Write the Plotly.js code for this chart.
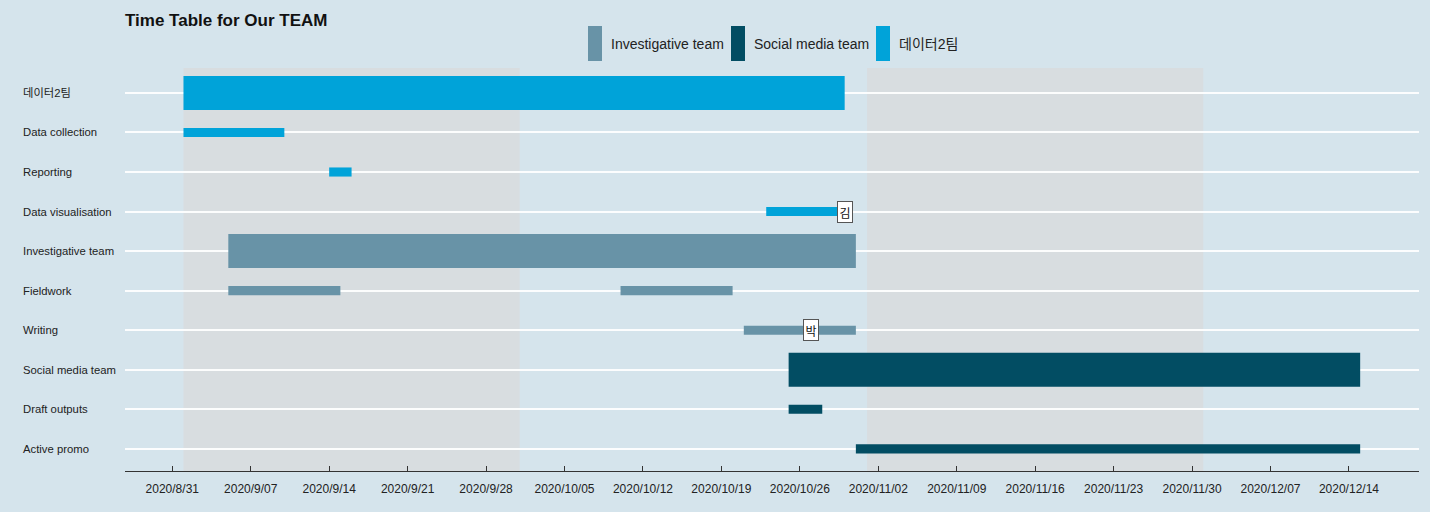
<!DOCTYPE html>
<html>
<head>
<meta charset="utf-8">
<script src="https://cdn.plot.ly/plotly-3.0.1.min.js"></script>
<style>html,body{margin:0;padding:0;background:#d5e4ec;}#chart{width:1430px;height:512px;}</style>
</head>
<body>
<div id="chart"></div>
<script>
// ---- Data ----
const taskOrder = ['데이터2팀','Data collection','Reporting','Data visualisation','Investigative team','Fieldwork','Writing','Social media team','Draft outputs','Active promo'];

const teamNames = ['Investigative team','Social media team','데이터2팀'];
const teamColors = ['#6893a7','#024d63','#00a3d9'];

const dataTeamTasks = ['데이터2팀','Data collection','Reporting','Data visualisation'];
const dataTeamStart = ['2020-09-01','2020-09-01','2020-09-14','2020-10-23'];
const dataTeamEnd   = ['2020-10-30','2020-09-10','2020-09-16','2020-10-30'];

const invTeamTasks = ['Investigative team','Fieldwork','Fieldwork','Writing'];
const invTeamStart = ['2020-09-05','2020-09-05','2020-10-10','2020-10-21'];
const invTeamEnd   = ['2020-10-31','2020-09-15','2020-10-20','2020-10-31'];

const socTeamTasks = ['Social media team','Draft outputs','Active promo'];
const socTeamStart = ['2020-10-25','2020-10-25','2020-10-31'];
const socTeamEnd   = ['2020-12-15','2020-10-28','2020-12-15'];

const teamRows = ['데이터2팀','Investigative team','Social media team'];

const noteTasks = ['Data visualisation','Writing'];
const noteDates = ['2020-10-30','2020-10-27'];
const noteTexts = ['김','박'];

const shadeStart = ['2020-09-01','2020-11-01'];
const shadeEnd   = ['2020-10-01','2020-12-01'];

const tick0 = '2020-08-31';
const xRange = ['2020-08-26 18:45','2020-12-20 06:00'];

// ---- Build ----
const DAY = 86400000;
function dur(s, e){ return e.map((d,i)=> new Date(d) - new Date(s[i])); }
function widths(tasks){ return tasks.map(t => teamRows.includes(t) ? 0.86 : 0.23); }

function barTrace(name, color, tasks, start, end){
  return {
    type:'bar', orientation:'h', name:name,
    y:tasks, base:start, x:dur(start,end), width:widths(tasks),
    marker:{color:color, line:{width:0}},
    hoverinfo:'skip', showlegend:false
  };
}

const traces = [
  barTrace(teamNames[0], teamColors[0], invTeamTasks, invTeamStart, invTeamEnd),
  barTrace(teamNames[1], teamColors[1], socTeamTasks, socTeamStart, socTeamEnd),
  barTrace(teamNames[2], teamColors[2], dataTeamTasks, dataTeamStart, dataTeamEnd)
];

const shapes = shadeStart.map((s,i)=>({
  type:'rect', xref:'x', yref:'paper', x0:s, x1:shadeEnd[i], y0:0, y1:1,
  fillcolor:'#d8dde0', line:{width:0}, layer:'below'
}));

const plotL = 125, plotW = 1294, plotT = 68, plotH = 403;
function px2x(p){ return (p-plotL)/plotW; }
function py2y(p){ return 1 + (plotT-p)/plotH; }

const annotations = [];
// left-aligned category labels
taskOrder.forEach(t => annotations.push({
  xref:'paper', yref:'y', x:px2x(21), y:t, text:t, showarrow:false,
  xanchor:'left', yanchor:'middle',
  font:{family:'Liberation Sans, Arial, Noto Sans CJK KR, sans-serif', size:11.3, color:'#222'}
}));
// name labels
noteTexts.forEach((t,i)=> annotations.push({
  xref:'x', yref:'y', x:noteDates[i], y:noteTasks[i], text:t, showarrow:false,
  bgcolor:'#ffffff', bordercolor:'#555', borderwidth:1, borderpad:1.5,
  font:{family:'Noto Sans CJK KR, sans-serif', size:12, color:'#111'}
}));

// manual legend with tall keys
const legX = [588, 731, 876];
teamNames.forEach((n,i)=>{
  shapes.push({type:'rect', xref:'paper', yref:'paper',
    x0:px2x(legX[i]), x1:px2x(legX[i]+14), y0:py2y(61), y1:py2y(26),
    fillcolor:teamColors[i], line:{width:0}});
  annotations.push({xref:'paper', yref:'paper', x:px2x(legX[i]+21), y:py2y(44),
    text:n, showarrow:false, xanchor:'left', yanchor:'middle',
    font:{family:'Liberation Sans, Arial, Noto Sans CJK KR, sans-serif', size:14, color:'#222'}});
});

const layout = {
  width:1430, height:512,
  paper_bgcolor:'#d5e4ec', plot_bgcolor:'#d5e4ec',
  margin:{l:125, r:11, t:68, b:41},
  barmode:'overlay',
  showlegend:false,
  title:{text:'<b>Time Table for Our TEAM</b>', xref:'paper', x:0, xanchor:'left',
    yref:'container', y:1-20/512, yanchor:'middle',
    font:{family:'Liberation Sans, Arial, sans-serif', size:17, color:'#111'}},
  xaxis:{type:'date', range:xRange, tick0:tick0, dtick:7*DAY, tickformat:'%Y/%-m/%d',
    showgrid:false, zeroline:false, showline:true, linecolor:'#333', linewidth:1,
    ticks:'inside', ticklen:5, tickcolor:'#333', tickwidth:1, ticklabelstandoff:7,
    tickfont:{family:'Liberation Sans, Arial, sans-serif', size:12, color:'#222'}},
  yaxis:{type:'category', categoryorder:'array', categoryarray:taskOrder,
    range:[9.56, -0.63], showticklabels:false, ticks:'',
    showgrid:true, gridcolor:'rgba(255,255,255,0.92)', gridwidth:2,
    zeroline:false, showline:false},
  shapes:shapes,
  annotations:annotations
};

Plotly.newPlot('chart', traces, layout, {displayModeBar:false, staticPlot:true});
</script>
</body>
</html>
